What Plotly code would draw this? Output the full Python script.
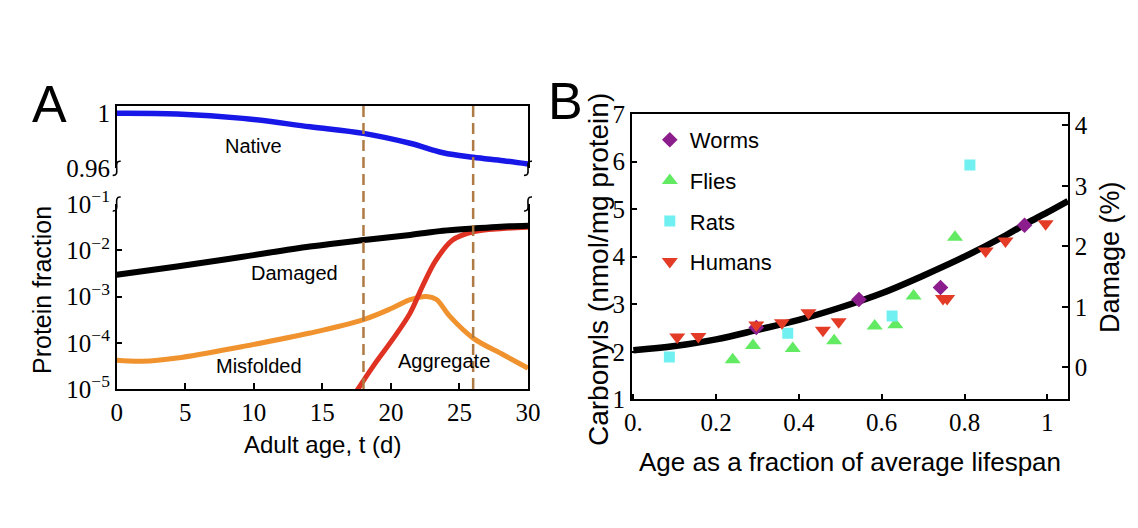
import plotly.graph_objects as go

# ---- panel A: protein fractions vs adult age ----
native_t = [0, 4.4, 9.2, 14.1, 18, 21.4, 23.8, 26, 28.2, 30]
native_frac = [0.9998, 0.9993, 0.9961, 0.990, 0.9852, 0.978, 0.9711, 0.9678, 0.9653, 0.9629]

damaged_t = [0, 4.4, 9.2, 14.1, 18, 21.4, 23.8, 26, 28, 30]
damaged_frac = [2.95e-3, 4.47e-3, 7.24e-3, 1.20e-2, 1.66e-2, 2.14e-2, 2.63e-2, 2.95e-2, 3.24e-2, 3.39e-2]

misfolded_t = [0, 1.9, 4.4, 9.2, 14.1, 18, 20.1, 21.4, 22.6, 23.3, 24.3, 26, 28.2, 30]
misfolded_frac = [4.17e-5, 3.98e-5, 4.68e-5, 8.32e-5, 1.62e-4, 3.16e-4, 5.62e-4, 8.51e-4,
                  1.0e-3, 8.71e-4, 3.72e-4, 1.26e-4, 5.50e-5, 2.82e-5]

aggregate_t = [17.4, 18.7, 20.1, 21.4, 22.3, 23.3, 24.5, 26, 28.2, 30]
aggregate_frac = [8.1e-6, 3.09e-5, 1.15e-4, 4.37e-4, 1.66e-3, 6.17e-3, 1.66e-2, 2.51e-2, 2.95e-2, 3.16e-2]

marker_days = [18, 26]

# ---- panel B: carbonyls vs age fraction ----
worms_x = [0.297, 0.545, 0.742, 0.945]
worms_y = [2.51, 3.10, 3.35, 4.66]
flies_x = [0.240, 0.289, 0.385, 0.485, 0.583, 0.633, 0.677, 0.777]
flies_y = [1.83, 2.13, 2.07, 2.23, 2.54, 2.57, 3.17, 4.41]
rats_x = [0.087, 0.373, 0.625, 0.813]
rats_y = [1.89, 2.39, 2.75, 5.93]
humans_x = [0.106, 0.157, 0.297, 0.359, 0.423, 0.458, 0.496, 0.748, 0.758, 0.851, 0.899, 0.996]
humans_y = [2.31, 2.32, 2.56, 2.61, 2.82, 2.45, 2.63, 3.12, 3.12, 4.12, 4.33, 4.69]

fit_x = [0, 0.1, 0.2, 0.3, 0.4, 0.5, 0.6, 0.7, 0.8, 0.9, 0.95, 1.0, 1.05]
fit_y = [2.03, 2.12, 2.26, 2.46, 2.67, 2.93, 3.23, 3.60, 4.00, 4.45, 4.70, 4.93, 5.17]

a_xticks = [0, 5, 10, 15, 20, 25, 30]
a_log_ticks = [1e-5, 1e-4, 1e-3, 1e-2, 1e-1]
a_log_labels = ["10<sup>\u22125</sup>", "10<sup>\u22124</sup>", "10<sup>\u22123</sup>",
                "10<sup>\u22122</sup>", "10<sup>\u22121</sup>"]
b_xticks = [0, 0.2, 0.4, 0.6, 0.8, 1]
b_xlabels = ["0.", "0.2", "0.4", "0.6", "0.8", "1"]

SERIF = "Liberation Serif, Times New Roman, DejaVu Serif, serif"
SANS = "Liberation Sans, Arial, sans-serif"

fig = go.Figure()

# panel A
fig.add_trace(go.Scatter(x=native_t, y=native_frac, mode="lines", line=dict(color="#1717e8", width=5.5, shape="spline"),
                         xaxis="x2", yaxis="y2", showlegend=False))
fig.add_trace(go.Scatter(x=misfolded_t, y=misfolded_frac, mode="lines", line=dict(color="#f0932f", width=5, shape="spline"),
                         showlegend=False))
fig.add_trace(go.Scatter(x=aggregate_t, y=aggregate_frac, mode="lines", line=dict(color="#e03222", width=5, shape="spline"),
                         showlegend=False))
fig.add_trace(go.Scatter(x=damaged_t, y=damaged_frac, mode="lines", line=dict(color="black", width=6, shape="spline"),
                         showlegend=False))

# panel B
fig.add_trace(go.Scatter(x=fit_x, y=fit_y, mode="lines", line=dict(color="black", width=6.5, shape="spline"),
                         xaxis="x3", yaxis="y3", showlegend=False))
species = [
    ("Worms", worms_x, worms_y, "diamond", "#8c1d8c", 12),
    ("Flies", flies_x, flies_y, "triangle-up", "#62ea62", 14),
    ("Rats", rats_x, rats_y, "square", "#70f0f0", 11),
    ("Humans", humans_x, humans_y, "triangle-down", "#e43b26", 14),
]
for name, xs, ys, sym, col, sz in species:
    fig.add_trace(go.Scatter(x=xs, y=ys, mode="markers", name=name, legendgroup=name,
                             marker=dict(symbol=sym, color=col, size=sz, line=dict(width=0)),
                             xaxis="x3", yaxis="y3"))
# empty trace so the right-hand damage axis gets drawn
fig.add_trace(go.Scatter(x=[], y=[], xaxis="x3", yaxis="y4", showlegend=False))

tickfont = dict(family=SERIF, size=25, color="black")
axis_common = dict(showgrid=False, zeroline=False, showline=True, linecolor="black", linewidth=1.5,
                   tickcolor="black", tickwidth=1.5, ticklen=6, tickfont=tickfont, automargin=False)

A_X = [116.7 / 1138, 528 / 1138]
B_X = [631.7 / 1138, 1068 / 1138]
A_LOW = [1 - 389 / 528, 1 - 204 / 528]
A_UP = [1 - 168.3 / 528, 1 - 106 / 528]

fig.update_layout(
    template="none",
    width=1138, height=528,
    margin=dict(l=0, r=0, t=0, b=0, pad=0, autoexpand=False),
    paper_bgcolor="white", plot_bgcolor="white",
    xaxis=dict(axis_common, domain=A_X, anchor="y", range=[0, 30], tickvals=a_xticks, ticks="inside"),
    yaxis=dict(axis_common, domain=A_LOW, anchor="x", type="log", range=[-5, -1],
               tickvals=a_log_ticks, ticktext=a_log_labels, ticks="inside", mirror=True),
    xaxis2=dict(axis_common, domain=A_X, anchor="y2", range=[0, 30], side="top", ticks="",
                showticklabels=False),
    yaxis2=dict(axis_common, domain=A_UP, anchor="x2", range=[0.9598, 1.0051],
                tickvals=[0.96, 1], ticktext=["0.96", "1"], ticks="", mirror=True),
    xaxis3=dict(axis_common, domain=B_X, anchor="y3", range=[-0.004, 1.05], tickvals=b_xticks,
                ticktext=b_xlabels, ticks="inside", mirror=True),
    yaxis3=dict(axis_common, domain=[1 - 399.3 / 528, 1 - 114 / 528], anchor="x3", range=[1, 7],
                tickvals=[1, 2, 3, 4, 5, 6, 7], ticks="inside"),
    yaxis4=dict(axis_common, overlaying="y3", anchor="x3", side="right", range=[-0.53, 4.19],
                tickvals=[0, 1, 2, 3, 4], ticks="inside"),
    legend=dict(x=0.571, y=1 - 119 / 528, xanchor="left", yanchor="top", bgcolor="rgba(0,0,0,0)",
                font=dict(family=SANS, size=22, color="black"), tracegroupgap=9, itemsizing="trace"),
)

# dashed markers for the two ages, across both panels
for d in marker_days:
    fig.add_shape(type="line", xref="x", yref="paper", x0=d, x1=d, y0=A_LOW[0], y1=A_UP[1],
                  line=dict(color="#b07a45", width=2.5, dash="11px,6px"))

# axis-break squiggles on both spines, at the bottom of the upper and top of the lower panel
for xp in A_X:
    for yp in (A_UP[0], A_LOW[1]):
        fig.add_shape(type="path", xref="paper", yref="paper", xsizemode="pixel", ysizemode="pixel",
                      xanchor=xp, yanchor=yp, path="M -4,-7 C 5,-8 -5,8 4,7",
                      line=dict(color="black", width=1.6))

ann = []
# curve labels in panel A
for text, t, yv, ref in [("Native", 9.95, 0.976, "y2"), ("Damaged", 13.0, -2.5, "y"),
                         ("Misfolded", 10.4, -4.51, "y"), ("Aggregate", 23.9, -4.40, "y")]:
    ann.append(dict(text=text, x=t, y=yv, xref="x" if ref == "y" else "x2", yref=ref, showarrow=False,
                    xanchor="center", yanchor="middle", font=dict(family=SANS, size=20, color="black")))
# panel letters and axis titles
for text, px, py, size, angle in [
    ("A", 49, 104, 52, 0),
    ("B", 565, 101, 52, 0),
    ("Protein fraction", 42, 290, 25, -90),
    ("Adult age, t (d)", 322, 444, 24, 0),
    ("Carbonyls (nmol/mg protein)", 598, 270, 28, -90),
    ("Damage (%)", 1110, 257, 27, -90),
    ("Age as a fraction of average lifespan", 850, 462, 26, 0),
]:
    ann.append(dict(text=text, x=px / 1138, y=1 - py / 528, xref="paper", yref="paper", showarrow=False,
                    xanchor="center", yanchor="middle", textangle=angle,
                    font=dict(family=SANS, size=size, color="black")))
fig.update_layout(annotations=ann)

fig.write_html("out.html", config={"displayModeBar": False},
               post_script="document.body.style.margin='0px';")
